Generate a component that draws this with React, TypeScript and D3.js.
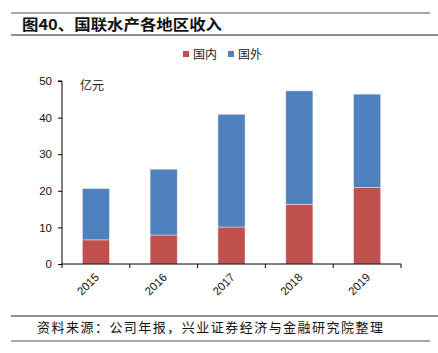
import React, { useRef, useEffect } from "react";
import * as d3 from "d3";

const years = ["2015", "2016", "2017", "2018", "2019"];
const domestic = [6.6, 7.9, 10.1, 16.3, 20.9];
const overseas = [14.0, 18.0, 30.8, 31.0, 25.5];
const yTicks = [0, 10, 20, 30, 40, 50];
const seriesNames = ["国内", "国外"];
const colors = ["#C0504D", "#4F81BD"];

const W = 438;
const H = 353;
const sans = "'Liberation Sans', Arial, sans-serif";
const cjk = "'Noto Sans CJK SC', sans-serif";

const App: React.FC = () => {
  const svgRef = useRef<SVGSVGElement>(null);

  useEffect(() => {
    const svg = d3.select(svgRef.current);
    svg.selectAll("*").remove();

    // frame lines
    svg.append("line").attr("x1", 11).attr("x2", 430).attr("y1", 13).attr("y2", 13)
      .attr("stroke", "#a6a6a6").attr("stroke-width", 2);
    svg.append("line").attr("x1", 11).attr("x2", 438).attr("y1", 35).attr("y2", 35)
      .attr("stroke", "#222").attr("stroke-width", 1);
    svg.append("line").attr("x1", 11).attr("x2", 438).attr("y1", 316).attr("y2", 316)
      .attr("stroke", "#222").attr("stroke-width", 1);
    svg.append("line").attr("x1", 11).attr("x2", 430).attr("y1", 341).attr("y2", 341)
      .attr("stroke", "#a6a6a6").attr("stroke-width", 2);

    svg.append("text")
      .attr("x", 22).attr("y", 30)
      .attr("font-family", cjk).attr("font-weight", "bold").attr("font-size", 15)
      .attr("textLength", 200).attr("lengthAdjust", "spacingAndGlyphs")
      .attr("fill", "#111")
      .text("图40、国联水产各地区收入");

    svg.append("text")
      .attr("x", 37).attr("y", 332)
      .attr("font-family", cjk).attr("font-size", 13)
      .attr("textLength", 346).attr("lengthAdjust", "spacing")
      .attr("fill", "#111")
      .text("资料来源：公司年报，兴业证券经济与金融研究院整理");

    const x = d3.scaleBand().domain(years).range([62, 401]).paddingInner(0.6).paddingOuter(0.3);
    const y = d3.scaleLinear().domain([0, 50]).range([264, 81]);

    const stackData = years.map((yr, i) => ({ year: yr, 国内: domestic[i], 国外: overseas[i] }));
    const series = d3.stack<any>().keys(seriesNames)(stackData);

    const g = svg.append("g");
    series.forEach((s, si) => {
      g.selectAll(null)
        .data(s)
        .join("rect")
        .attr("x", (d: any) => x(d.data.year)!)
        .attr("width", x.bandwidth())
        .attr("y", (d) => y(d[1]))
        .attr("height", (d) => y(d[0]) - y(d[1]))
        .attr("fill", colors[si])
        .attr("stroke", "#ffffff")
        .attr("stroke-opacity", 0.5)
        .attr("stroke-width", 0.8);
    });

    // y axis
    const yAxis = svg.append("g").attr("transform", "translate(62,0)")
      .call(d3.axisLeft(y).tickValues(yTicks).tickSize(4).tickPadding(6));
    yAxis.select(".domain").attr("stroke", "#000").attr("d", `M-4,${y(50)}H0V${y(0)}`);
    yAxis.selectAll(".tick line").attr("stroke", "#000");
    yAxis.selectAll("text").attr("font-family", sans).attr("font-size", 11.5).attr("fill", "#111");

    // x axis
    const xAxis = svg.append("g").attr("transform", "translate(0,264)");
    xAxis.append("line").attr("x1", 62).attr("x2", 401).attr("y1", 0).attr("y2", 0).attr("stroke", "#000");
    d3.range(years.length + 1).forEach((i) => {
      const tx = 62 + i * ((401 - 62) / years.length);
      xAxis.append("line").attr("x1", tx).attr("x2", tx).attr("y1", 0).attr("y2", 4).attr("stroke", "#000");
    });
    xAxis.selectAll(".xl")
      .data(years)
      .join("text")
      .attr("class", "xl")
      .attr("transform", (d) => `translate(${x(d)! + x.bandwidth() / 2 + 4},${14}) rotate(-45)`)
      .attr("text-anchor", "end")
      .attr("font-family", sans).attr("font-size", 11.5).attr("fill", "#111")
      .text((d) => d);

    svg.append("text").attr("x", 80).attr("y", 90)
      .attr("font-family", cjk).attr("font-size", 12).attr("fill", "#222")
      .text("亿元");

    // legend
    const lx = [183, 228];
    seriesNames.forEach((n, i) => {
      svg.append("rect").attr("x", lx[i]).attr("y", 51).attr("width", 6).attr("height", 6).attr("fill", colors[i]);
      svg.append("text").attr("x", lx[i] + 10).attr("y", 59)
        .attr("font-family", cjk).attr("font-size", 12).attr("fill", "#222").text(n);
    });
  }, []);

  return (
    <div style={{ position: "absolute", left: 0, top: 0, width: W, height: H, background: "#fff" }}>
      <svg ref={svgRef} width={W} height={H} />
    </div>
  );
};

export default App;
